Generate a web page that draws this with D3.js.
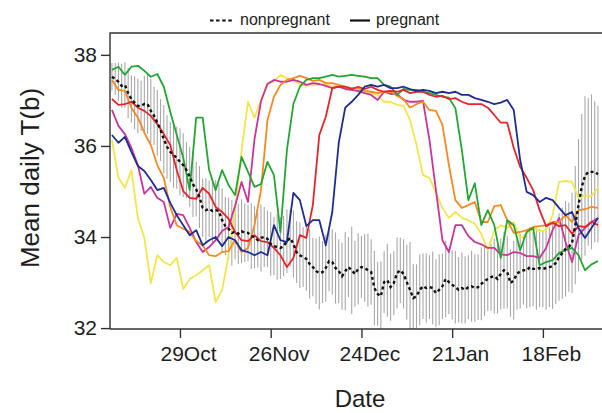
<!DOCTYPE html>
<html><head><meta charset="utf-8">
<script src="https://cdn.jsdelivr.net/npm/d3@7"></script>
<style>body{margin:0;background:#fff}svg{display:block}text{font-family:"Liberation Sans",Arial,sans-serif;fill:#1e1e1e}</style>
</head><body><svg id="c" width="602" height="413"></svg>
<script>
// Day index 0 = 29 Oct; pregnant series sampled every 2nd day, nonpregnant daily
const pregDays = d3.range(-21, 130, 2);
const nonDays = d3.range(-21, 130, 1);
const tickDays = [0, 28, 56, 84, 112];
const tickLabels = ["29Oct", "26Nov", "24Dec", "21Jan", "18Feb"];
const yTicks = [32, 34, 36, 38];

const green = [37.67,37.74,37.56,37.74,37.76,37.65,37.52,37.58,37.30,36.75,
  36.24,35.74,35.03,36.62,36.62,35.47,35.03,35.47,35.14,34.92,
  35.76,35.43,35.10,35.16,35.65,35.36,34.10,35.91,36.92,37.30,
  37.45,37.49,37.49,37.52,37.56,37.52,37.54,37.56,37.54,37.52,
  37.49,37.49,37.34,37.30,37.12,37.25,37.23,37.23,37.19,37.16,
  37.12,37.08,37.06,36.83,35.91,34.81,35.18,34.26,34.59,34.26,
  33.54,34.37,34.26,33.71,34.11,34.20,33.38,33.45,33.49,33.65,
  33.71,33.76,33.60,33.27,33.40,33.47];
const orange = [37.45,37.23,37.21,36.84,36.62,36.29,36.02,35.58,35.30,34.66,
  34.26,34.18,34.11,33.91,33.82,33.60,33.58,33.67,33.69,33.93,
  33.67,33.76,34.26,35.03,36.57,37.08,37.34,37.45,37.49,37.54,
  37.49,37.43,37.45,37.38,37.38,37.34,37.30,37.27,37.27,37.21,
  37.19,37.16,37.19,37.19,37.10,37.03,36.84,36.92,36.97,36.79,
  36.77,36.46,35.58,34.81,34.64,34.70,34.77,34.33,34.33,34.68,
  34.70,34.37,34.09,34.11,34.15,34.22,34.24,34.26,34.33,34.33,
  34.48,34.33,34.59,34.61,34.66,34.64];
const red = [37.03,36.90,36.92,36.97,36.84,36.77,36.66,36.48,36.26,36.02,
  35.47,35.01,34.86,34.84,35.08,34.95,34.66,34.55,34.40,34.11,
  33.93,33.91,34.04,33.91,33.89,33.76,33.60,33.34,33.54,34.04,
  33.98,34.70,36.24,36.64,37.27,37.30,37.30,37.25,37.30,37.25,
  37.30,37.23,37.19,37.21,37.19,37.23,37.16,37.19,37.19,37.12,
  37.08,37.10,37.03,37.05,36.97,36.92,36.92,36.92,36.84,36.68,
  36.51,36.51,35.96,35.54,35.30,35.03,34.59,34.24,34.31,34.24,
  34.26,34.07,34.24,34.22,34.33,34.26];
const magenta = [36.79,36.44,36.26,35.96,35.58,34.95,35.10,34.86,34.77,34.20,
  34.51,34.48,34.20,33.89,33.67,33.78,33.93,34.13,34.22,34.68,
  35.21,34.77,36.15,36.98,37.36,37.45,37.41,37.41,37.45,37.41,
  37.34,37.38,37.36,37.32,37.27,37.30,37.25,37.23,37.21,37.16,
  37.12,37.01,37.19,37.14,37.14,37.01,36.97,36.97,36.99,36.13,
  35.03,33.93,33.67,34.26,34.26,34.02,33.89,33.84,33.76,33.76,
  33.62,33.60,33.67,33.65,33.58,33.58,33.54,33.76,34.15,34.42,
  33.89,33.45,34.04,34.20,34.33,34.42];
const blue = [36.24,36.07,36.20,35.87,35.56,35.45,35.25,35.03,35.08,34.75,
  34.48,34.26,34.04,34.15,33.82,33.93,34.00,33.80,34.00,33.93,
  33.71,33.67,33.60,33.67,33.60,34.26,33.93,33.89,34.97,34.81,
  34.24,34.37,34.37,33.82,34.55,36.07,36.84,36.97,37.12,37.30,
  37.34,37.30,37.34,37.27,37.27,37.30,37.25,37.21,37.23,37.21,
  37.16,37.19,37.16,37.19,37.12,37.12,37.05,37.01,36.97,36.92,
  36.95,37.01,36.79,35.69,34.99,34.92,34.77,34.86,34.81,34.64,
  34.48,34.55,34.20,33.98,34.20,34.42];
const yellow = [36.13,35.30,35.08,35.47,34.42,33.98,32.99,33.60,33.45,33.38,
  33.54,32.86,33.08,33.16,33.27,33.38,32.57,32.84,33.60,34.59,
  35.91,36.97,36.62,37.01,37.38,37.41,37.56,37.49,37.43,37.36,
  37.32,37.34,37.34,37.36,37.32,37.30,37.27,37.23,37.19,37.16,
  37.16,37.12,36.97,36.97,36.90,36.88,36.57,36.02,35.36,35.30,
  34.97,34.64,34.42,34.55,34.42,34.37,34.29,34.07,33.71,34.15,
  34.26,34.20,34.33,33.98,34.07,34.20,34.13,34.15,34.48,35.21,
  35.23,35.21,34.86,34.92,34.90,35.08];

const nonMean = [37.52,37.47,37.41,37.32,37.34,37.16,37.03,36.95,36.88,36.88,
  36.92,36.92,36.77,36.66,36.51,36.35,36.15,35.98,35.87,35.80,
  35.74,35.65,35.58,35.47,35.32,35.16,35.05,34.88,34.64,34.59,
  34.62,34.57,34.59,34.57,34.37,34.24,34.18,34.09,34.11,34.07,
  34.13,34.09,34.09,34.02,34.00,33.93,33.98,34.00,33.96,33.85,
  33.80,33.78,33.76,33.80,33.91,33.98,33.85,33.67,33.60,33.56,
  33.52,33.41,33.34,33.25,33.21,33.23,33.32,33.47,33.45,33.32,
  33.25,33.14,33.25,33.34,33.27,33.19,33.30,33.34,33.32,33.27,
  33.23,32.88,32.75,32.70,33.01,33.05,32.90,32.99,33.21,33.27,
  33.19,33.01,32.84,32.66,32.70,32.84,32.92,32.88,32.90,32.88,
  32.77,32.84,32.92,33.08,33.01,32.95,32.90,32.84,32.88,32.84,
  32.90,32.92,32.88,32.90,32.97,33.03,33.08,33.12,33.14,33.08,
  33.19,33.27,33.23,32.99,33.05,33.19,33.25,33.27,33.27,33.34,
  33.30,33.30,33.32,33.30,33.32,33.34,33.36,33.43,33.56,33.65,
  33.74,33.78,33.87,34.26,34.70,35.10,35.34,35.43,35.43,35.43,
  35.38];
const nonSD = [0.30,0.35,0.42,0.48,0.50,0.55,0.52,0.58,0.60,0.55,
  0.62,0.66,0.70,0.64,0.72,0.68,0.75,0.70,0.66,0.72,
  0.68,0.74,0.70,0.62,0.66,0.72,0.60,0.68,0.64,0.70,
  0.62,0.72,0.66,0.60,0.70,0.64,0.68,0.72,0.60,0.66,
  0.70,0.64,0.62,0.72,0.68,0.60,0.74,0.66,0.62,0.70,
  0.64,0.72,0.68,0.66,0.70,0.62,0.74,0.68,0.72,0.66,
  0.70,0.76,0.64,0.72,0.80,0.68,0.74,0.66,0.72,0.78,
  0.70,0.74,0.86,0.66,0.96,0.72,0.78,0.68,0.74,0.80,
  0.72,0.82,0.70,0.76,0.68,0.80,0.74,0.70,0.78,0.72,
  0.76,0.82,1.05,0.74,0.70,0.78,0.72,0.76,0.70,0.80,
  0.74,0.78,0.72,0.84,0.70,0.76,0.80,0.72,0.78,0.74,
  0.70,0.78,0.74,0.72,0.80,0.76,0.70,0.74,0.82,0.76,
  0.78,0.84,0.80,0.74,0.86,0.78,0.82,0.76,0.84,0.88,
  0.82,0.90,0.86,0.84,0.92,0.88,0.94,0.90,0.96,1.00,
  1.05,0.98,1.10,1.30,1.45,1.60,1.75,1.62,1.70,1.55,
  1.50];

const pregnant = [
  {name: "yellow", values: yellow, color: "#f2e64e"},
  {name: "magenta", values: magenta, color: "#c9359a"},
  {name: "orange", values: orange, color: "#f58a24"},
  {name: "green", values: green, color: "#25a535"},
  {name: "red", values: red, color: "#e3262c"},
  {name: "blue", values: blue, color: "#1f2d8f"}
];

const toDate = d => new Date(Date.UTC(2008, 9, 29) + d * 864e5);
const svg = d3.select("#c");
const L = 110, R = 602, T = 33, B = 329;
const x = d3.scaleUtc().domain([toDate(-21.6), toDate(130.25)]).range([L, R]);
const y = d3.scaleLinear().domain([31.98, 38.48]).range([B, T]);

svg.append("defs").append("clipPath").attr("id", "clip")
  .append("rect").attr("x", L).attr("y", T).attr("width", R - L).attr("height", B - T);
const plot = svg.append("g").attr("clip-path", "url(#clip)");

// error bars
const nonData = nonDays.map((d, i) => ({date: toDate(d), m: nonMean[i], s: nonSD[i]}));
plot.append("g").selectAll("line").data(nonData).join("line")
  .attr("x1", d => x(d.date)).attr("x2", d => x(d.date))
  .attr("y1", d => y(d.m - d.s)).attr("y2", d => y(d.m + d.s))
  .attr("stroke", "#a8a8a8").attr("stroke-width", 1.1);

// pregnant lines
const line = d3.line().x(d => x(d.date)).y(d => y(d.v));
pregnant.forEach(s => {
  const pts = pregDays.map((d, i) => ({date: toDate(d), v: s.values[i]}));
  plot.append("path").datum(pts).attr("d", line)
    .attr("fill", "none").attr("stroke", s.color).attr("stroke-width", 1.8)
    .attr("stroke-linejoin", "round");
});

// nonpregnant mean
plot.append("path").datum(nonData.map(d => ({date: d.date, v: d.m}))).attr("d", line)
  .attr("fill", "none").attr("stroke", "#111").attr("stroke-width", 2.4)
  .attr("stroke-dasharray", "3,2.8");

// axes
const yAxis = svg.append("g").attr("transform", `translate(${L},0)`)
  .call(d3.axisLeft(y).tickValues(yTicks).tickFormat(d3.format("d")).tickSize(9).tickSizeOuter(0).tickPadding(4));
const xAxis = svg.append("g").attr("transform", `translate(0,${B})`)
  .call(d3.axisBottom(x).tickValues(tickDays.map(toDate)).tickFormat((d, i) => tickLabels[i])
    .tickSize(9).tickSizeOuter(0).tickPadding(8));
[yAxis, xAxis].forEach(g => {
  g.selectAll("path.domain").remove();
  g.selectAll(".tick line").attr("stroke", "#333").attr("stroke-width", 1.4);
  g.selectAll(".tick text").style("font-size", "21px").style("font-family", '"Liberation Sans",Arial,sans-serif').attr("fill", "#1e1e1e");
});
xAxis.selectAll(".tick text").attr("dx", 8);

// frame
svg.append("path").attr("d", `M${L},${B}V${T}H${R}`).attr("fill", "none").attr("stroke", "#333").attr("stroke-width", 1.4);
svg.append("line").attr("x1", L).attr("x2", R).attr("y1", B).attr("y2", B).attr("stroke", "#333").attr("stroke-width", 1.4);

// axis titles
svg.append("text").attr("transform", "translate(39,178) rotate(-90)").attr("text-anchor", "middle")
  .style("font-size", "26px").text("Mean daily T(b)");
svg.append("text").attr("x", 360).attr("y", 407).attr("text-anchor", "middle")
  .style("font-size", "24px").text("Date");

// legend
const lg = svg.append("g");
lg.append("line").attr("x1", 210).attr("x2", 232).attr("y1", 20.5).attr("y2", 20.5)
  .attr("stroke", "#111").attr("stroke-width", 2).attr("stroke-dasharray", "3.5,2.6");
lg.append("text").attr("x", 240).attr("y", 25).style("font-size", "16px").text("nonpregnant");
lg.append("line").attr("x1", 350).attr("x2", 370).attr("y1", 20.5).attr("y2", 20.5)
  .attr("stroke", "#111").attr("stroke-width", 2.2);
lg.append("text").attr("x", 376).attr("y", 25).style("font-size", "16px").text("pregnant");
</script></body></html>
